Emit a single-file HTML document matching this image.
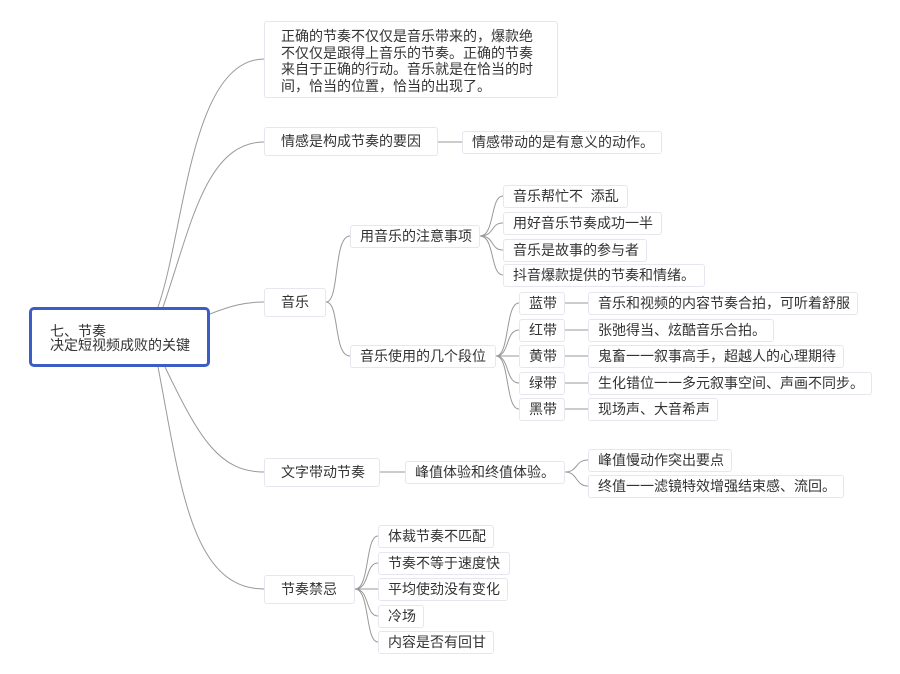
<!DOCTYPE html>
<html><head><meta charset="utf-8"><style>
body{margin:0;width:900px;height:674px;background:#fff;position:relative;overflow:hidden;font-family:"Liberation Sans","Noto Sans CJK SC",sans-serif;font-size:14px;color:#333}
.b{position:absolute;box-sizing:border-box;border:1px solid #e6e6ee;border-radius:3px;background:#fff;white-space:nowrap;padding-left:9px}
.l1{padding-left:16px;height:29px;line-height:27px}
.s{height:23px;line-height:21px}
svg{position:absolute;left:0;top:0}
</style></head><body>
<svg width="900" height="674" fill="none" stroke="#999" stroke-width="1">
<path d="M158 307 C185 230,190 60,264 59"/>
<path d="M163 307 C190 230,205 142,264 142"/>
<path d="M210 314 C230 306,245 302,264 302"/>
<path d="M165 367 C200 440,220 472,264 472"/>
<path d="M158 367 C180 480,190 589,264 589"/>
<path d="M438 142 H462"/>
<path d="M326 302 C340 302,333 236,350 236"/>
<path d="M326 302 C340 302,333 356,350 356"/>
<path d="M480 236 C495 236,490 196,503 196"/>
<path d="M480 236 C495 236,490 223,503 223"/>
<path d="M480 236 C495 236,490 250,503 250"/>
<path d="M480 236 C495 236,490 275,503 275"/>
<path d="M496 356 C510 356,505 303,519 303"/>
<path d="M496 356 C510 356,505 330,519 330"/>
<path d="M496 356 H519"/>
<path d="M496 356 C510 356,505 383,519 383"/>
<path d="M496 356 C510 356,505 409,519 409"/>
<path d="M565 303 H588 M565 330 H588 M565 356 H588 M565 383 H588 M565 409 H588"/>
<path d="M380 472 H405"/>
<path d="M565 472 C578 472,575 460,588 460"/>
<path d="M565 472 C578 472,575 486,588 486"/>
<path d="M355 589 C370 589,365 536,378 536"/>
<path d="M355 589 C370 589,365 563,378 563"/>
<path d="M355 589 H378"/>
<path d="M355 589 C370 589,365 616,378 616"/>
<path d="M355 589 C370 589,365 642,378 642"/>
</svg>
<div class="b" style="left:29px;top:307px;width:181px;height:60px;border:3px solid #3d5dc6;border-radius:5px;padding:14px 0 0 18px;line-height:14px;white-space:normal">七、节奏<br>决定短视频成败的关键</div>
<div class="b" style="left:264px;top:21px;width:294px;height:77px;padding:6px 0 0 16px;line-height:16.5px">正确的节奏不仅仅是音乐带来的，爆款绝<br>不仅仅是跟得上音乐的节奏。正确的节奏<br>来自于正确的行动。音乐就是在恰当的时<br>间，恰当的位置，恰当的出现了。</div>
<div class="b l1" style="left:264px;top:127px;width:174px">情感是构成节奏的要因</div>
<div class="b s" style="left:462px;top:131px;width:200px;padding-left:9px">情感带动的是有意义的动作。</div>
<div class="b l1" style="left:264px;top:288px;width:62px">音乐</div>
<div class="b s" style="left:350px;top:225px;width:130px">用音乐的注意事项</div>
<div class="b s" style="left:503px;top:185px;width:125px">音乐帮忙不&nbsp; 添乱</div>
<div class="b s" style="left:503px;top:212px;width:159px">用好音乐节奏成功一半</div>
<div class="b s" style="left:503px;top:239px;width:144px">音乐是故事的参与者</div>
<div class="b s" style="left:503px;top:264px;width:202px">抖音爆款提供的节奏和情绪。</div>
<div class="b s" style="left:350px;top:345px;width:146px">音乐使用的几个段位</div>
<div class="b s" style="left:519px;top:292px;width:46px">蓝带</div>
<div class="b s" style="left:519px;top:319px;width:46px">红带</div>
<div class="b s" style="left:519px;top:345px;width:46px">黄带</div>
<div class="b s" style="left:519px;top:372px;width:46px">绿带</div>
<div class="b s" style="left:519px;top:398px;width:46px">黑带</div>
<div class="b s" style="left:588px;top:292px;width:270px">音乐和视频的内容节奏合拍，可听着舒服</div>
<div class="b s" style="left:588px;top:319px;width:186px">张弛得当、炫酷音乐合拍。</div>
<div class="b s" style="left:588px;top:345px;width:256px">鬼畜一一叙事高手，超越人的心理期待</div>
<div class="b s" style="left:588px;top:372px;width:284px">生化错位一一多元叙事空间、声画不同步。</div>
<div class="b s" style="left:588px;top:398px;width:130px">现场声、大音希声</div>
<div class="b l1" style="left:264px;top:458px;width:116px">文字带动节奏</div>
<div class="b s" style="left:405px;top:461px;width:160px">峰值体验和终值体验。</div>
<div class="b s" style="left:588px;top:449px;width:144px">峰值慢动作突出要点</div>
<div class="b s" style="left:588px;top:475px;width:256px">终值一一滤镜特效增强结束感、流回。</div>
<div class="b l1" style="left:264px;top:575px;width:91px">节奏禁忌</div>
<div class="b s" style="left:378px;top:525px;width:116px">体裁节奏不匹配</div>
<div class="b s" style="left:378px;top:552px;width:132px">节奏不等于速度快</div>
<div class="b s" style="left:378px;top:578px;width:130px">平均使劲没有变化</div>
<div class="b s" style="left:378px;top:605px;width:46px">冷场</div>
<div class="b s" style="left:378px;top:631px;width:116px">内容是否有回甘</div>
</body></html>
